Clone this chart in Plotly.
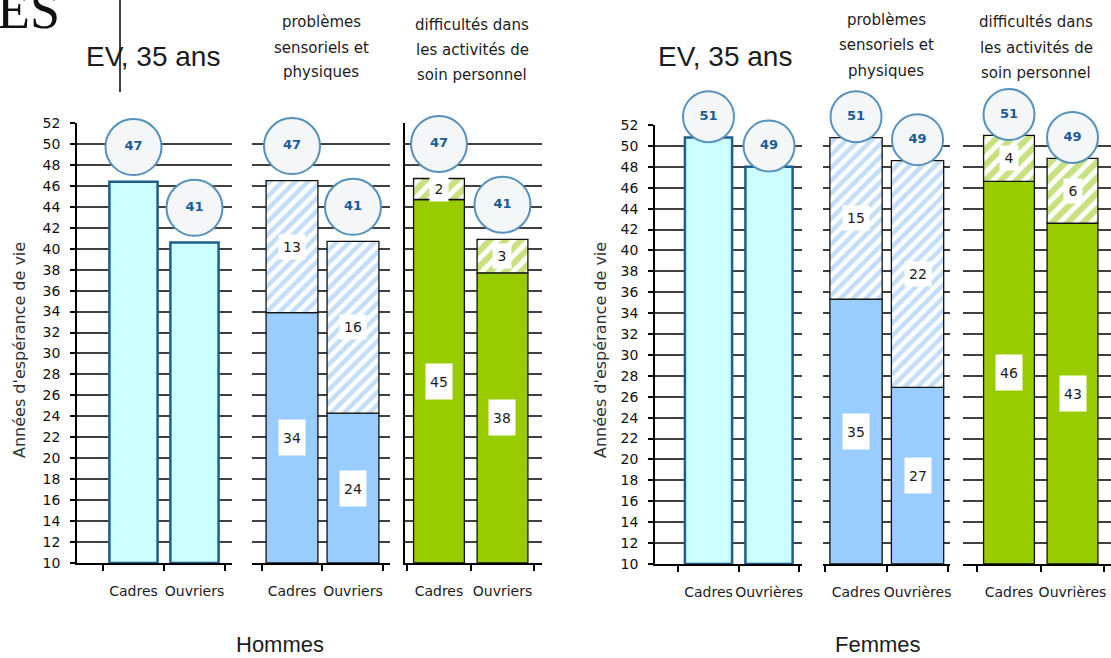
import plotly.graph_objects as go

W, H = 1111, 658

# ---------------- data ----------------
categories_hommes = ["Cadres", "Ouvriers"]
categories_femmes = ["Cadres", "Ouvrières"]
y_tick_values = list(range(10, 53, 2))
Y_MIN, Y_MAX = 10, 52

# Hommes
ev_hommes = [46.4, 40.6]
sens_sans_hommes = [33.9, 24.3]      # années sans problèmes sensoriels et physiques
sens_total_hommes = [46.5, 40.7]
soin_sans_hommes = [44.7, 37.7]      # années sans difficultés de soin personnel
soin_total_hommes = [46.7, 40.9]
bubble_hommes = ["47", "41"]
sens_sans_labels_hommes = ["34", "24"]
sens_avec_labels_hommes = ["13", "16"]
soin_sans_labels_hommes = ["45", "38"]
soin_avec_labels_hommes = ["2", "3"]

# Femmes
ev_femmes = [50.8, 48.0]
sens_sans_femmes = [35.35, 26.9]
sens_total_femmes = [50.8, 48.6]
soin_sans_femmes = [46.6, 42.6]
soin_total_femmes = [51.0, 48.8]
bubble_femmes = ["51", "49"]
sens_sans_labels_femmes = ["35", "27"]
sens_avec_labels_femmes = ["15", "22"]
soin_sans_labels_femmes = ["46", "43"]
soin_avec_labels_femmes = ["4", "6"]

# ---------------- styles ----------------
SANS = "DejaVu Sans, Verdana, sans-serif"
NARROW = "Liberation Sans Narrow, Arial Narrow, Liberation Sans, Arial, sans-serif"
SERIF = "Liberation Serif, Times New Roman, serif"
TXT = "#1c1c1c"

EV_FILL, EV_LINE = "#ccffff", "#1d5e8c"
BLUE, BLUE_HATCH = "#99ccff", "#86bdf2"
GREEN, GREEN_HATCH = "#99cc00", "#8fc400"


def fx(px):
    return px / W


def fy(px):
    return 1 - px / H


# panel layout (pixels): x domain, category range, bar width, y domain
panels = [
    dict(kind="ev", cats=categories_hommes, ev=ev_hommes, bubble=bubble_hommes,
         x=(77, 232), rng=(-0.926, 1.615), bw=0.79, y=(563, 123), ylab=True, yline=True, off=3.3, bsize=56),
    dict(kind="stack", cats=categories_hommes, sans=sens_sans_hommes, total=sens_total_hommes,
         lab_sans=sens_sans_labels_hommes, lab_avec=sens_avec_labels_hommes,
         color=BLUE, hatch=BLUE_HATCH, psize=9, psol=0.5,
         bubble=bubble_hommes, x=(252, 390), rng=(-0.656, 1.607), bw=0.85, y=(563, 123),
         ylab=False, yline=False, off=3.3, bsize=56),
    dict(kind="stack", cats=categories_hommes, sans=soin_sans_hommes, total=soin_total_hommes,
         lab_sans=soin_sans_labels_hommes, lab_avec=soin_avec_labels_hommes,
         color=GREEN, hatch=GREEN_HATCH, psize=11, psol=0.55,
         bubble=bubble_hommes, x=(405, 542), rng=(-0.535, 1.622), bw=0.8, y=(563, 123),
         ylab=False, yline=True, off=3.3, bsize=56),
    dict(kind="ev", cats=categories_femmes, ev=ev_femmes, bubble=bubble_femmes,
         x=(655, 802), rng=(-0.884, 1.545), bw=0.78, y=(564, 125), ylab=True, yline=True, off=2.0, bsize=51),
    dict(kind="stack", cats=categories_femmes, sans=sens_sans_femmes, total=sens_total_femmes,
         lab_sans=sens_sans_labels_femmes, lab_avec=sens_avec_labels_femmes,
         color=BLUE, hatch=BLUE_HATCH, psize=9, psol=0.5,
         bubble=bubble_femmes, x=(823, 950), rng=(-0.537, 1.528), bw=0.85, y=(564, 125),
         ylab=False, yline=False, off=2.0, bsize=51),
    dict(kind="stack", cats=categories_femmes, sans=soin_sans_femmes, total=soin_total_femmes,
         lab_sans=soin_sans_labels_femmes, lab_avec=soin_avec_labels_femmes,
         color=GREEN, hatch=GREEN_HATCH, psize=11, psol=0.55,
         bubble=bubble_femmes, x=(963, 1111), rng=(-0.724, 1.606), bw=0.8, y=(564, 125),
         ylab=False, yline=False, off=2.0, bsize=51),
]

fig = go.Figure()
layout_axes = {}
annotations = []
n_panels = len(panels)

for k, p in enumerate(panels, start=1):
    xs = "" if k == 1 else str(k)
    xref, yref = "x" + xs, "y" + xs
    bubble_axis = str(k + n_panels)
    cats = p["cats"]

    if p["kind"] == "ev":
        totals = p["ev"]
        fig.add_trace(go.Bar(
            x=cats, y=[v - Y_MIN for v in totals], base=Y_MIN, width=p["bw"],
            marker=dict(color=EV_FILL, line=dict(color=EV_LINE, width=2.5)),
            xaxis=xref, yaxis=yref, hoverinfo="skip"))
    else:
        totals = p["total"]
        sans = p["sans"]
        fig.add_trace(go.Bar(
            x=cats, y=[s - Y_MIN for s in sans], base=Y_MIN, width=p["bw"],
            marker=dict(color=p["color"], line=dict(color="#111111", width=1.3)),
            xaxis=xref, yaxis=yref, hoverinfo="skip"))
        fig.add_trace(go.Bar(
            x=cats, y=[t - s for s, t in zip(sans, totals)], base=sans, width=p["bw"],
            marker=dict(color="white",
                        pattern=dict(shape="/", fgcolor=p["hatch"], bgcolor="white",
                                     size=p["psize"], solidity=p["psol"]),
                        line=dict(color="#111111", width=1.3)),
            xaxis=xref, yaxis=yref, hoverinfo="skip"))
        for j in range(len(cats)):
            annotations.append(dict(
                x=j, y=(Y_MIN + sans[j]) / 2, xref=xref, yref=yref, text=p["lab_sans"][j],
                showarrow=False, bgcolor="white", width=24, height=33,
                font=dict(family=SANS, size=14, color=TXT)))
            t = p["lab_avec"][j]
            annotations.append(dict(
                x=j, y=(sans[j] + totals[j]) / 2, xref=xref, yref=yref, text=t,
                showarrow=False, bgcolor="white", width=8 + 8 * len(t), height=22,
                font=dict(family=SANS, size=14, color=TXT)))

    # value bubbles, on an invisible y axis with the same scale but extended to the top of the page
    fig.add_trace(go.Scatter(
        x=cats, y=[t + p["off"] for t in totals], mode="markers+text",
        text=p["bubble"], textposition="middle center",
        textfont=dict(family=SANS, size=13, color="#1a5c96", weight="bold"),
        marker=dict(size=p["bsize"], color="#f5f6f8", line=dict(color="#5592bd", width=2)),
        cliponaxis=False, xaxis=xref, yaxis="y" + bubble_axis, hoverinfo="skip"))

    ybot, ytop = p["y"]
    ppu = (ybot - ytop) / (Y_MAX - Y_MIN)
    layout_axes["yaxis" + bubble_axis] = dict(
        domain=[fy(ybot), 1], range=[Y_MIN, Y_MIN + ybot / ppu], anchor=xref,
        visible=False, fixedrange=True)

    layout_axes["xaxis" + xs] = dict(
        domain=[fx(p["x"][0]), fx(p["x"][1])], range=list(p["rng"]), anchor=yref,
        type="category", showline=True, linecolor="black", linewidth=1.5,
        ticks="outside", tickson="boundaries", ticklen=6, tickwidth=1.5, tickcolor="black",
        tickangle=0, tickfont=dict(family=SANS, size=14, color=TXT), ticklabelstandoff=14,
        showgrid=False, zeroline=False, fixedrange=True)
    layout_axes["yaxis" + xs] = dict(
        domain=[fy(ybot), fy(ytop)], range=[Y_MIN, Y_MAX], anchor=xref,
        tickvals=y_tick_values, showgrid=True, gridcolor="#404040", gridwidth=2,
        zeroline=False, showline=p["yline"], linecolor="black", linewidth=1.5,
        ticks="outside" if p["ylab"] else "", ticklen=5, tickwidth=1.5, tickcolor="black",
        showticklabels=p["ylab"], tickfont=dict(family=SANS, size=14, color="#111111"),
        ticklabelstandoff=7, fixedrange=True)


def paper_text(text, x, y, size, family, color=TXT, angle=0, xanchor="center", yanchor="middle"):
    annotations.append(dict(
        text=text, x=fx(x), y=fy(y), xref="paper", yref="paper", showarrow=False,
        xanchor=xanchor, yanchor=yanchor, textangle=angle,
        font=dict(family=family, size=size, color=color)))


# headers
paper_text("EV, 35 ans", 153, 57, 28, NARROW)
paper_text("EV, 35 ans", 725, 57, 28, NARROW)
for txt, yy in zip(["problèmes", "sensoriels et", "physiques"], [22, 48, 72]):
    paper_text(txt, 321, yy, 15, SANS)
for txt, yy in zip(["difficultés dans", "les activités de", "soin personnel"], [25, 50, 75]):
    paper_text(txt, 472, yy, 15, SANS)
for txt, yy in zip(["problèmes", "sensoriels et", "physiques"], [20, 45, 71]):
    paper_text(txt, 886, yy, 15, SANS)
for txt, yy in zip(["difficultés dans", "les activités de", "soin personnel"], [22, 48, 73]):
    paper_text(txt, 1036, yy, 15, SANS)

# y-axis titles
paper_text("Années d'espérance de vie", 19, 350, 16, SANS, color="#333333", angle=-90)
paper_text("Années d'espérance de vie", 600, 350, 16, SANS, color="#333333", angle=-90)

# group labels
paper_text("Hommes", 280, 644, 22, NARROW)
paper_text("Femmes", 878, 644, 22, NARROW)

# scan remnants at the top-left corner (cut by the page edge, as in the source)
paper_text("ES", 62, 10, 54, SERIF, color="#111111", xanchor="right")

fig.update_layout(
    width=W, height=H, margin=dict(l=0, r=0, t=0, b=0, autoexpand=False),
    paper_bgcolor="white", plot_bgcolor="rgba(0,0,0,0)",
    showlegend=False, barmode="overlay",
    font=dict(family=SANS, color=TXT),
    annotations=annotations,
    shapes=[dict(type="line", xref="paper", yref="paper", x0=fx(120), x1=fx(120),
                 y0=1, y1=fy(92), line=dict(color="black", width=1.5))],
    **layout_axes,
)

fig.write_html("out.html", config={"displayModeBar": False},
               post_script="document.body.style.margin='0';")
